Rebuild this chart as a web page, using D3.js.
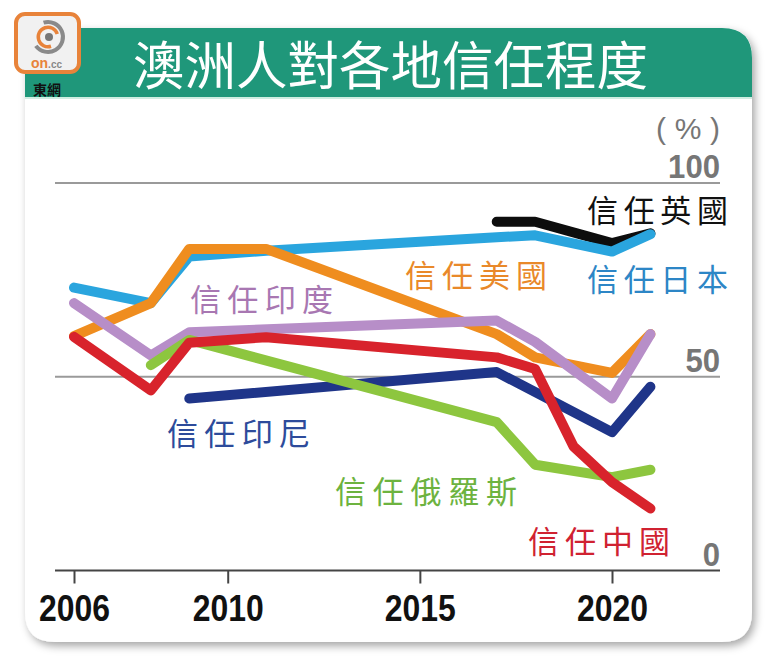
<!DOCTYPE html>
<html><head><meta charset="utf-8">
<script src="https://cdn.jsdelivr.net/npm/d3@7"></script>
<style>html,body{margin:0;padding:0;background:#fff;}svg{display:block;}</style>
</head><body>
<svg id="c" width="780" height="672"></svg>
<script>
const years = [2006, 2008, 2009, 2011, 2017, 2018, 2019, 2020, 2021];
const uk        = [null, null, null, null, 90, 90, null, 84.5, 87];
const japan     = [73, 69, 81, 82.5, 86, 86.5, null, 82.3, 86.8];
const usa       = [60.5, 69, 83, 83, 61, 55, null, 51, 61];
const india     = [69, 55.5, 61.5, null, 64.5, 59, null, 44.4, 61];
const indonesia = [null, null, 44.4, null, 51.2, null, null, 35.7, 47.4];
const russia    = [null, 53, 59.5, null, 38.3, 27.3, null, 24.1, 26];
const china     = [60.3, 46.5, 58.8, 60.2, 55, 52, 32, 22.8, 16];
const xTicks = [2006, 2010, 2015, 2020];
const yTicks = [0, 50, 100];
const title = "澳洲人對各地信任程度";
const seriesNames = ["信任英國","信任日本","信任美國","信任印度","信任印尼","信任俄羅斯","信任中國"];

const series = [
  {name: seriesNames[0], values: uk, color: "#0d0d0d", text: "#111111", lx: 587, ly: 208, lw: 141},
  {name: seriesNames[1], values: japan, color: "#2aa5de", text: "#2d86c6", lx: 587, ly: 277, lw: 141},
  {name: seriesNames[2], values: usa, color: "#ef8d1f", text: "#e9892a", lx: 405, ly: 273, lw: 142},
  {name: seriesNames[3], values: india, color: "#b78ec8", text: "#a877b2", lx: 190, ly: 297, lw: 143},
  {name: seriesNames[4], values: indonesia, color: "#1f3589", text: "#2d4b9b", lx: 167, ly: 431, lw: 143},
  {name: seriesNames[5], values: russia, color: "#8dc63f", text: "#6db33f", lx: 335, ly: 489, lw: 182},
  {name: seriesNames[6], values: china, color: "#d8232c", text: "#d02231", lx: 528, ly: 539, lw: 142}
];

const svg = d3.select("#c");
const defs = svg.append("defs");
const f = defs.append("filter").attr("id","sh").attr("x","-10%").attr("y","-10%").attr("width","120%").attr("height","120%");
f.append("feDropShadow").attr("dx",3).attr("dy",4).attr("stdDeviation",4).attr("flood-color","#000").attr("flood-opacity",0.35);

// card
const L=25, T=28, R=752, B=642, r=30;
const cardPath = `M${L},${T} H${R-r} Q${R},${T} ${R},${T+r} V${B-r} Q${R},${B} ${R-r},${B} H${L+r} Q${L},${B} ${L},${B-r} Z`;
svg.append("path").attr("d", cardPath).attr("fill","#fff").attr("filter","url(#sh)");
defs.append("clipPath").attr("id","cc").append("path").attr("d", cardPath);
svg.append("rect").attr("x",L).attr("y",T).attr("width",R-L).attr("height",97-T)
  .attr("fill","#1f977a").attr("clip-path","url(#cc)");
svg.append("rect").attr("x",L).attr("y",97).attr("width",R-L).attr("height",2).attr("fill","#cfeee2");

// title
svg.append("text").attr("x",133).attr("y",62).attr("dominant-baseline","central")
  .attr("font-family","'Noto Sans CJK TC','Noto Sans CJK SC',sans-serif").attr("font-size",52)
  .attr("fill","#fff").attr("textLength",515).attr("lengthAdjust","spacingAndGlyphs").text(title);

// logo
const lg = svg.append("g");
lg.append("rect").attr("x",16).attr("y",14).attr("width",63).attr("height",58).attr("rx",9)
  .attr("fill","#f1f1f1").attr("stroke","#e8833a").attr("stroke-width",4);
const arc = d3.arc();
lg.append("path").attr("transform","translate(48,37)")
  .attr("d", arc({innerRadius:13, outerRadius:17, startAngle:-0.3, endAngle:Math.PI*1.3})).attr("fill","#8a8a8a");
lg.append("path").attr("transform","translate(48,37)")
  .attr("d", arc({innerRadius:8, outerRadius:11.5, startAngle:Math.PI*0.9, endAngle:Math.PI*2.4})).attr("fill","#e8833a");
lg.append("circle").attr("cx",49).attr("cy",37).attr("r",4).attr("fill","#777");
const lt = lg.append("text").attr("x",31).attr("y",68).attr("font-family","'Liberation Sans',Arial,sans-serif").attr("font-weight","bold");
lt.append("tspan").attr("font-size",14).attr("fill","#e8833a").text("on");
lt.append("tspan").attr("font-size",10).attr("fill","#888").text(".cc");
svg.append("text").attr("x",33).attr("y",95).attr("font-family","'Noto Sans CJK TC',sans-serif").attr("font-weight","bold")
  .attr("font-size",14).attr("fill","#111").text("東網");

// scales
const x = d3.scaleLinear().domain([2006, 2020]).range([74, 612]);
const y = d3.scaleLinear().domain([0, 100]).range([570.5, 183]);
const plotL = 55, plotR = 720;

// grid
svg.append("g").selectAll("line").data(yTicks.filter(d=>d>0)).join("line")
  .attr("x1",plotL).attr("x2",plotR).attr("y1",d=>y(d)).attr("y2",d=>y(d))
  .attr("stroke","#9a9a9a").attr("stroke-width",2);
svg.append("g").selectAll("text").data(yTicks).join("text")
  .attr("x",plotR).attr("y",d=>y(d)-5).attr("text-anchor","end")
  .attr("font-family","'Liberation Sans',Arial,sans-serif").attr("font-weight","bold").attr("font-size",34)
  .attr("fill","#767676")
  .attr("textLength",d=>String(d).length*17.3).attr("lengthAdjust","spacingAndGlyphs")
  .text(d=>d);
svg.append("text").attr("x",688).attr("y",128).attr("text-anchor","middle").attr("dominant-baseline","central")
  .attr("font-family","'Liberation Sans',Arial,sans-serif").attr("font-size",30).attr("fill","#767676")
  .attr("textLength",64).attr("lengthAdjust","spacing").text("(%)");

// x axis
const xa = d3.axisBottom(x).tickValues(xTicks).tickSize(13).tickPadding(15).tickFormat(d3.format("d"));
const gx = svg.append("g").attr("transform",`translate(0,${y(0)})`).call(xa);
gx.select(".domain").remove();
gx.selectAll(".tick line").attr("stroke","#444").attr("stroke-width",2);
gx.selectAll(".tick text").attr("font-family","'Liberation Sans',Arial,sans-serif").attr("font-weight","bold")
  .attr("font-size",36).attr("fill","#111").attr("dy","0.62em")
  .attr("textLength",71).attr("lengthAdjust","spacingAndGlyphs");
svg.append("line").attr("x1",plotL).attr("x2",plotR).attr("y1",y(0)).attr("y2",y(0))
  .attr("stroke","#444").attr("stroke-width",2);

// lines
const line = d3.line().defined(d=>d.v!=null).x(d=>x(d.yr)).y(d=>y(d.v));
const gl = svg.append("g");
series.forEach(s=>{
  const pts = years.map((yr,i)=>({yr, v:s.values[i]})).filter(d=>d.v!=null);
  gl.append("path").attr("d", line(pts)).attr("fill","none").attr("stroke",s.color)
    .attr("stroke-width",10).attr("stroke-linecap","round").attr("stroke-linejoin","round");
});

// labels
svg.append("g").selectAll("text").data(series).join("text")
  .attr("x",d=>d.lx).attr("y",d=>d.ly).attr("dominant-baseline","central")
  .attr("font-family","'Noto Sans CJK TC','Noto Sans CJK SC',sans-serif").attr("font-size",31)
  .attr("fill",d=>d.text).attr("textLength",d=>d.lw).attr("lengthAdjust","spacing")
  .text(d=>d.name);
</script>
</body></html>
